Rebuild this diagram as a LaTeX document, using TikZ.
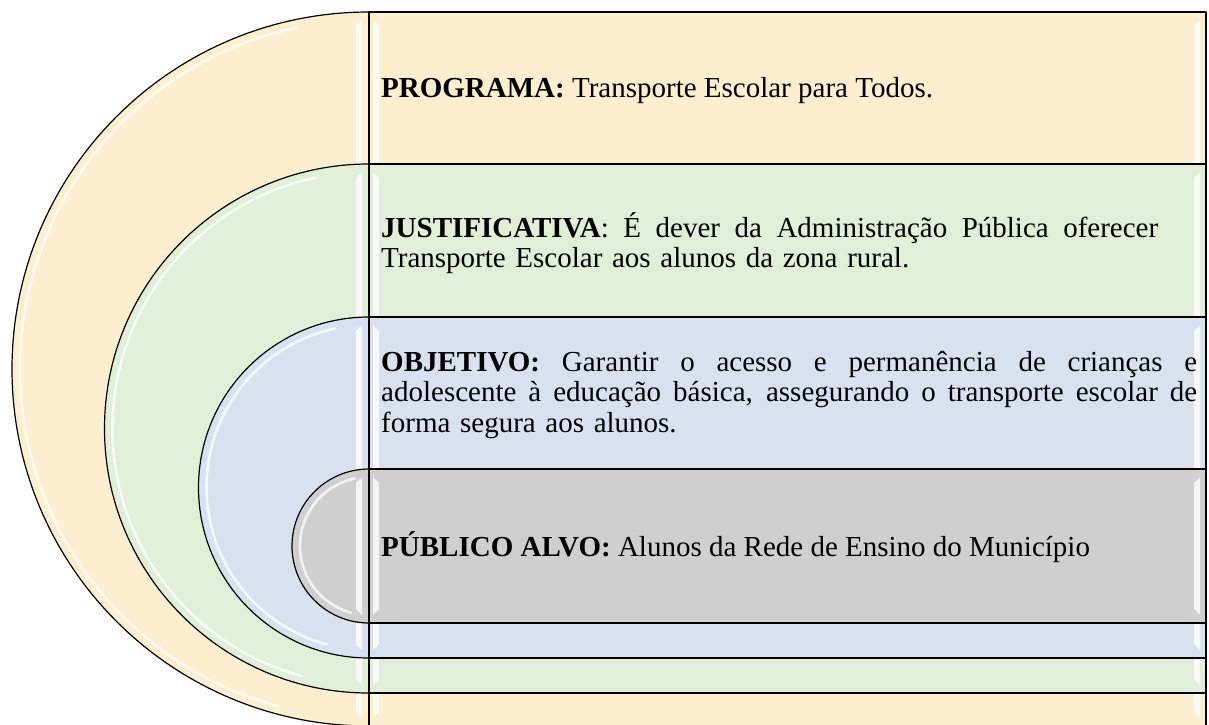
\documentclass[tikz,border=0pt]{standalone}
\usepackage{fontspec}
\setmainfont{Liberation Serif}
\definecolor{cY}{RGB}{252,238,206}
\definecolor{cG}{RGB}{225,238,216}
\definecolor{cB}{RGB}{217,225,241}
\definecolor{cK}{RGB}{208,206,206}
\newcommand\jline[2]{\hbox to #1{\spaceskip=0.25em plus 1fil\relax #2}}
\tikzset{
  outl/.style={draw=black,line width=1.2pt},
  hl/.style={draw=white,line width=2.6pt,opacity=0.75,line cap=round},
  strip/.style={fill=white,opacity=0.8},
  txt/.style={inner sep=0pt,anchor=west,font={\fontsize{29}{30.5}\selectfont\lineskiplimit=-50pt}}
}
\begin{document}
\begin{tikzpicture}[x=1pt,y=-1pt,line join=round]
\useasboundingbox (0,0) rectangle (1209,724);
\clip (0,0) rectangle (1209,724);
\foreach \t/\b/\c in {12/726/cY,164/693/cG,317/658/cB,469/623/cK}{
  \pgfmathsetmacro\rad{(\b-\t)/2}
  \pgfmathsetmacro\cy{(\b+\t)/2}
  \fill[\c] (369,\t) arc[start angle=270,end angle=90,radius=\rad] -- cycle;
  \fill[\c] (369,\t) rectangle (1206,\b);
  % bevel highlights
  \draw[hl] (369,\cy) ++({258}:{\rad-8}) arc[start angle=258,end angle=105,radius=\rad-8];
  \fill[strip] (356,\t+14) -- (362,\t+8) -- (362,\b-8) -- (356,\b-14) -- cycle;
  \fill[strip] (373,\t+8) -- (379,\t+14) -- (379,\b-14) -- (373,\b-8) -- cycle;
  \fill[strip] (1194,\t+14) -- (1200,\t+8) -- (1200,\b-8) -- (1194,\b-14) -- cycle;
  \draw[outl] (369,\t) arc[start angle=270,end angle=90,radius=\rad] -- cycle;
  \draw[outl] (369,\t) rectangle (1206,\b);
}
\node[txt] (prog) at (381,91) {\textbf{PROGRAMA:} Transporte Escolar para Todos.};
\node[txt,text width=777pt,align=left] (just) at (381,243)
  {\jline{777pt}{\textbf{JUSTIFICATIVA}: É dever da Administração Pública oferecer}
   Transporte Escolar aos alunos da zona rural.};
\node[txt,text width=816pt,align=left] (obj) at (381,395)
  {\jline{816pt}{\textbf{OBJETIVO:} Garantir o acesso e permanência de crianças e}
   \jline{816pt}{adolescente à educação básica, assegurando o transporte escolar de}
   forma segura aos alunos.};
\node[txt] (pub) at (381,547) {\textbf{PÚBLICO ALVO:} Alunos da Rede de Ensino do Município};
\end{tikzpicture}
\end{document}
